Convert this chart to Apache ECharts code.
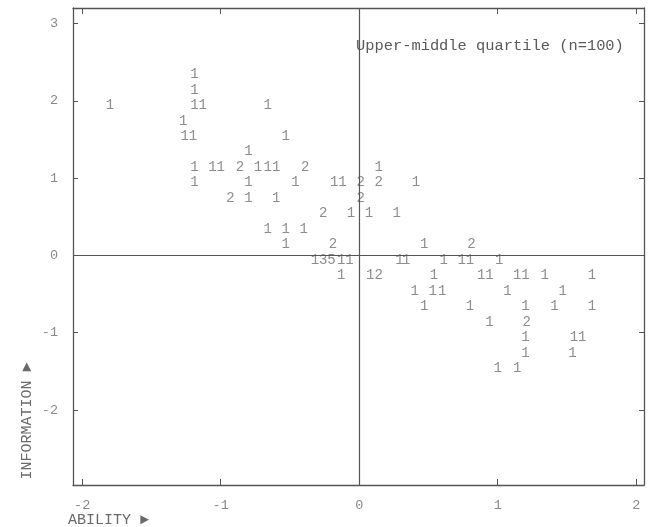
<!DOCTYPE html>
<html>
<head>
<meta charset="utf-8">
<script src="https://cdn.jsdelivr.net/npm/echarts@6/dist/echarts.min.js"></script>
<style>html,body{margin:0;padding:0;background:#fff}#c{width:648px;height:527px}</style>
</head>
<body>
<div id="c"></div>
<script>
// ABILITY (x), INFORMATION (y), count of cases printed at each cell
const abilityX = [
  -1.19,
  -1.19,
  -1.80, -1.19, -1.13, -0.66,
  -1.27,
  -1.26, -1.20, -0.53,
  -0.80,
  -1.19, -1.06, -1.00, -0.86, -0.73, -0.66, -0.60, -0.39, 0.14,
  -1.19, -0.80, -0.46, -0.18, -0.12, 0.01, 0.14, 0.41,
  -0.93, -0.80, -0.60, 0.01,
  -0.26, -0.06, 0.07, 0.27,
  -0.66, -0.53, -0.40,
  -0.53, -0.19, 0.47, 0.81,
  -0.32, -0.26, -0.20, -0.13, -0.07, 0.29, 0.34, 0.61, 0.74, 0.80, 1.01,
  -0.13, 0.08, 0.14, 0.54, 0.88, 0.94, 1.14, 1.20, 1.34, 1.68,
  0.40, 0.53, 0.60, 1.07, 1.47,
  0.47, 0.80, 1.20, 1.41, 1.68,
  0.94, 1.21,
  1.20, 1.55, 1.61,
  1.20, 1.54,
  1.00, 1.14
];
const informationY = [
  2.34,
  2.14,
  1.94, 1.94, 1.94, 1.94,
  1.74,
  1.54, 1.54, 1.54,
  1.34,
  1.14, 1.14, 1.14, 1.14, 1.14, 1.14, 1.14, 1.14, 1.14,
  0.94, 0.94, 0.94, 0.94, 0.94, 0.94, 0.94, 0.94,
  0.74, 0.74, 0.74, 0.74,
  0.54, 0.54, 0.54, 0.54,
  0.34, 0.34, 0.34,
  0.14, 0.14, 0.14, 0.14,
  -0.06, -0.06, -0.06, -0.06, -0.06, -0.06, -0.06, -0.06, -0.06, -0.06, -0.06,
  -0.26, -0.26, -0.26, -0.26, -0.26, -0.26, -0.26, -0.26, -0.26, -0.26,
  -0.46, -0.46, -0.46, -0.46, -0.46,
  -0.66, -0.66, -0.66, -0.66, -0.66,
  -0.86, -0.86,
  -1.06, -1.06, -1.06,
  -1.26, -1.26,
  -1.46, -1.46
];
const counts = [
  1,
  1,
  1, 1, 1, 1,
  1,
  1, 1, 1,
  1,
  1, 1, 1, 2, 1, 1, 1, 2, 1,
  1, 1, 1, 1, 1, 2, 2, 1,
  2, 1, 1, 2,
  2, 1, 1, 1,
  1, 1, 1,
  1, 2, 1, 2,
  1, 3, 5, 1, 1, 1, 1, 1, 1, 1, 1,
  1, 1, 2, 1, 1, 1, 1, 1, 1, 1,
  1, 1, 1, 1, 1,
  1, 1, 1, 1, 1,
  1, 2,
  1, 1, 1,
  1, 1,
  1, 1
];
const xTicks = [-2, -1, 0, 1, 2];
const yTicks = [-2, -1, 0, 1, 2, 3];
const titleText = 'Upper-middle quartile (n=100)';
const xName = 'ABILITY \u25BA';
const yName = 'INFORMATION \u25BA';

const MONO = '"Liberation Mono", "DejaVu Sans Mono", monospace';
const lineCol = '#555555';
const textCol = '#6a6a6a';

const points = abilityX.map((x, i) => [x, informationY[i], counts[i]]);

const chart = echarts.init(document.getElementById('c'), null, {renderer: 'canvas'});

function xAxisCfg(pos, labels) {
  return {
    type: 'value', position: pos, min: -2.066, max: 2.056,
    axisLine: {show: true, onZero: false, lineStyle: {color: lineCol, width: 1.3}},
    axisTick: {show: true, inside: true, length: 6, customValues: xTicks, lineStyle: {color: lineCol}},
    axisLabel: {show: labels, customValues: xTicks, margin: 13, color: '#8a8a8a',
      fontFamily: MONO, fontSize: 13.5},
    splitLine: {show: false}
  };
}
function yAxisCfg(pos, labels) {
  return {
    type: 'value', position: pos, min: -2.97, max: 3.2,
    axisLine: {show: true, onZero: false, lineStyle: {color: lineCol, width: 1.3}},
    axisTick: {show: true, inside: true, length: 5, customValues: yTicks, lineStyle: {color: lineCol}},
    axisLabel: {show: labels, customValues: yTicks, margin: 15, color: '#8a8a8a',
      fontFamily: MONO, fontSize: 13.5, padding: [8, 0, 0, 0]},
    splitLine: {show: false}
  };
}

chart.setOption({
  animation: false,
  grid: {left: 73, right: 4, top: 8, height: 477, containLabel: false},
  xAxis: [xAxisCfg('bottom', true), xAxisCfg('top', false)],
  yAxis: [yAxisCfg('left', true), yAxisCfg('right', false)],
  graphic: [
    {type: 'text', left: 356, top: 38, style: {text: titleText, font: '15.4px ' + MONO, fill: '#5a5a5a'}},
    {type: 'text', left: 68, top: 513, style: {text: xName, font: '15px ' + MONO, fill: textCol}},
    {type: 'text', x: 27, y: 421, rotation: Math.PI / 2,
      style: {text: yName, font: '15px ' + MONO, fill: textCol, align: 'center', verticalAlign: 'middle'}}
  ],
  series: [{
    type: 'scatter',
    xAxisIndex: 0, yAxisIndex: 0,
    data: points,
    symbolSize: 1,
    itemStyle: {color: 'rgba(0,0,0,0)'},
    label: {
      show: true, position: 'inside', offset: [0, 2],
      formatter: p => String(p.value[2]),
      color: '#707070', fontFamily: MONO, fontSize: 14
    },
    labelLayout: {hideOverlap: false},
    markLine: {
      silent: true, symbol: 'none', animation: false,
      label: {show: false},
      lineStyle: {color: lineCol, width: 1.2, type: 'solid'},
      data: [{xAxis: 0}, {yAxis: 0}]
    }
  }]
});
</script>
</body>
</html>
